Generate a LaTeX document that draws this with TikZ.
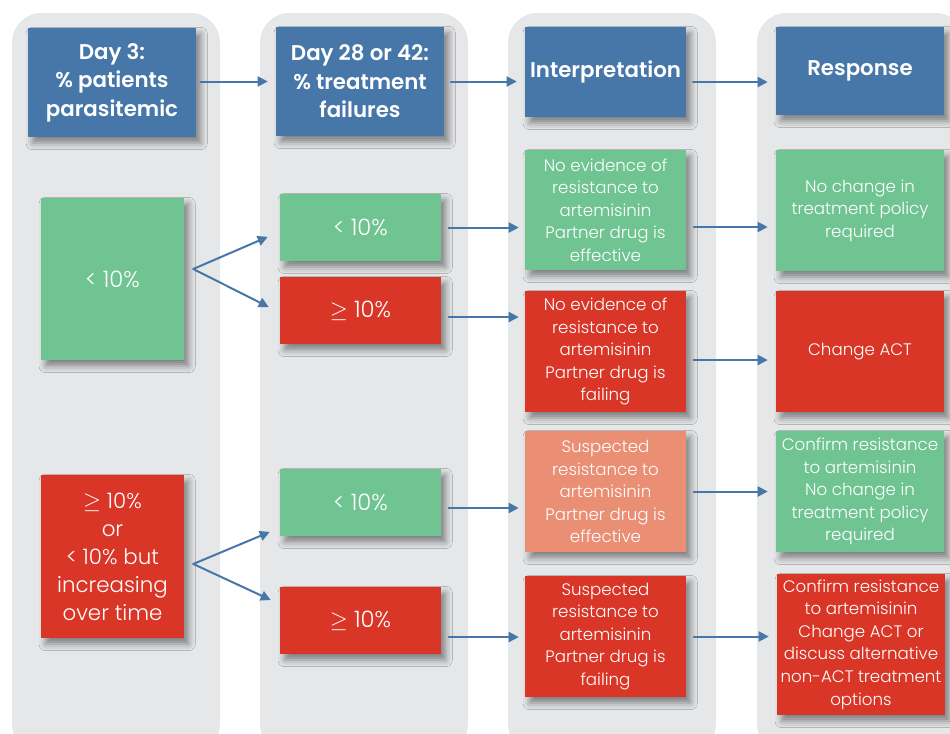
\documentclass[tikz,border=0pt]{standalone}
\usepackage{fontspec}
\setmainfont{Poppins}[UprightFont=* Light, BoldFont=* SemiBold]
\usetikzlibrary{arrows.meta,shadows.blur}

\definecolor{colbg}{HTML}{E6E7E9}
\definecolor{hblue}{HTML}{4677A8}
\definecolor{okgreen}{HTML}{6FC492}
\definecolor{badred}{HTML}{D93628}
\definecolor{warnsalmon}{HTML}{EA8E74}

\begin{document}
\begin{tikzpicture}[x=0.75pt, y=-0.75pt,
  every node/.style={inner sep=0pt, text=white, align=center},
  box/.style 2 args={minimum width=#1*0.75pt, minimum height=#2*0.75pt,
    blur shadow={shadow xshift=3.5pt, shadow yshift=-4.5pt, shadow blur radius=5pt, shadow opacity=45}},
  head/.style={fill=hblue, font=\fontsize{16}{21.3}\selectfont\bfseries},
  txt/.style={font=\fontsize{12.5}{16.9}\selectfont},
  pct/.style={font=\fontsize{17}{21}\selectfont},
  arr/.style={draw=hblue, line width=1.5pt, line cap=round, -{Triangle[length=7.5pt,width=7.5pt]}},
  rarr/.style={arr, shorten <=5.5pt, shorten >=4.5pt}]
\clip (0,0) rectangle (950,733);
% grey columns
\foreach \x in {12,260,508,757}
  \fill[colbg, rounded corners=22pt] (\x,13) rectangle ++(208,740);
% headers
\node[head, box={168}{109}] (C1N0) at (112,82.5) {Day 3:\\\% patients\\parasitemic};
\node[head, box={168}{109}] (C2N0) at (360,81.5) {Day 28 or 42:\\\% treatment\\failures};
\node[head, box={161}{90}] (C3N0) at (605.5,72) {Interpretation};
\node[head, box={168}{88}] (C4N0) at (860,71) {Response};
% day 3
\node[pct, fill=okgreen, box={143}{162}] (C1N1) at (112.5,279) {< 10\%};
\node[fill=badred, box={143}{163}, font=\fontsize{16}{21}\selectfont] (C1N2) at (112.5,556.5) {$\geq$ 10\%\\or\\< 10\% but\\increasing\\over time};
% day 28 or 42
\node[pct, fill=okgreen, box={161}{67}] (C2N1) at (360.5,227.5) {< 10\%};
\node[pct, fill=badred, box={161}{67}] (C2N2) at (360.5,310.5) {$\geq$ 10\%};
\node[pct, fill=okgreen, box={161}{67}] (C2N3) at (360.5,502.5) {< 10\%};
\node[pct, fill=badred, box={161}{67}] (C2N4) at (360.5,620.5) {$\geq$ 10\%};
% interpretation
\node[txt, fill=okgreen, box={161}{120}] (C3N1) at (605.5,210) {No evidence of\\resistance to\\artemisinin\\Partner drug is\\effective};
\node[txt, fill=badred, box={161}{121}] (C3N2) at (605.5,351.5) {No evidence of\\resistance to\\artemisinin\\Partner drug is\\failing};
\node[txt, fill=warnsalmon, box={161}{121}] (C3N3) at (605.5,491.5) {Suspected\\resistance to\\artemisinin\\Partner drug is\\effective};
\node[txt, fill=badred, box={161}{121}] (C3N4) at (605.5,636.5) {Suspected\\resistance to\\artemisinin\\Partner drug is\\failing};
% response
\node[txt, fill=okgreen, box={168}{121}] (C4N1) at (860,210.5) {No change in\\treatment policy\\required};
\node[txt, fill=badred, box={168}{121}] (C4N2) at (860,351.5) {Change ACT};
\node[txt, fill=okgreen, box={168}{121}] (C4N3) at (860,491.5) {Confirm resistance\\to artemisinin\\No change in\\treatment policy\\required};
\node[txt, fill=badred, box={168}{141}] (C4N4) at (861,644.5) {Confirm resistance\\to artemisinin\\Change ACT or\\discuss alternative\\non-ACT treatment\\options};
% header arrows
\draw[arr, shorten <=3pt, shorten >=6pt] ([yshift=0.75pt]C1N0.east) -- ([yshift=0.75pt]C1N0.east -| C2N0.west);
\draw[arr, shorten <=5pt, shorten >=6pt] (C2N0.east) -- (C2N0.east -| C3N0.west);
\draw[arr, shorten <=5pt, shorten >=6pt] ([yshift=-7.5pt]C3N0.east) -- ([yshift=-7.5pt]C3N0.east -| C4N0.west);
% forks
\coordinate (F1) at ([xshift=6.75pt, yshift=7.5pt]C1N1.east);
\coordinate (F2) at ([xshift=6.75pt, yshift=-5.6pt]C1N2.east);
\draw[arr] (F1) -- ([xshift=-9pt, yshift=-7pt]C2N1.west);
\draw[arr] (F1) -- ([xshift=-8.25pt, yshift=2.6pt]C2N2.west);
\draw[arr] (F2) -- ([xshift=-7.5pt, yshift=-22.1pt]C2N3.west);
\draw[arr] (F2) -- ([xshift=-6.75pt, yshift=15.4pt]C2N4.west);
% row arrows
\draw[rarr] (C2N1.east) -- (C2N1.east -| C3N1.west);
\draw[rarr] ([yshift=-4.9pt]C2N2.east) -- ([yshift=-4.9pt]C2N2.east -| C3N2.west);
\draw[rarr] ([yshift=-4.1pt]C2N3.east) -- ([yshift=-4.1pt]C2N3.east -| C3N3.west);
\draw[rarr] ([yshift=-12.4pt]C2N4.east) -- ([yshift=-12.4pt]C2N4.east -| C3N4.west);
\draw[rarr, shorten >=6pt] ([yshift=-12.75pt]C3N1.east) -- ([yshift=-12.75pt]C3N1.east -| C4N1.west);
\draw[rarr, shorten >=6pt] ([yshift=-6.4pt]C3N2.east) -- ([yshift=-6.4pt]C3N2.east -| C4N2.west);
\draw[rarr, shorten >=6pt] (C3N3.east) -- (C3N3.east -| C4N3.west);
\draw[rarr, shorten >=6pt] (C3N4.east) -- (C3N4.east -| C4N4.west);
\end{tikzpicture}
\end{document}
